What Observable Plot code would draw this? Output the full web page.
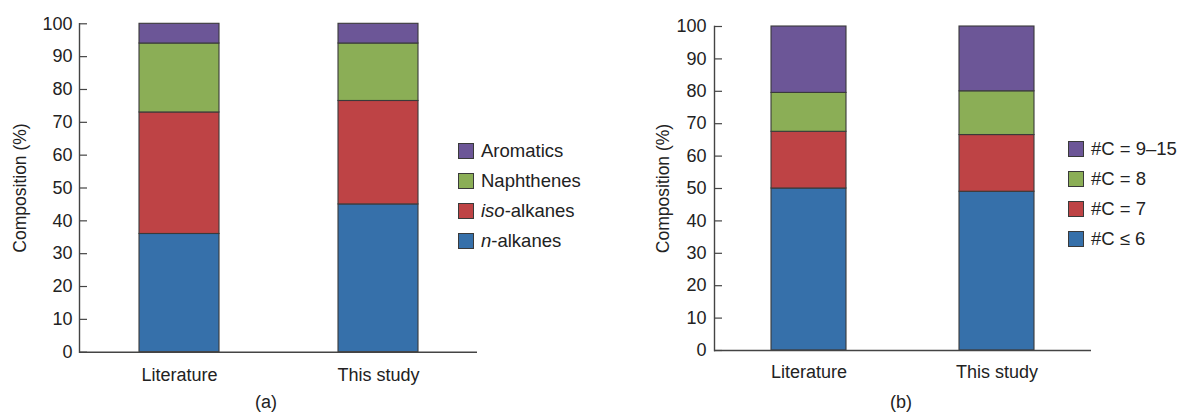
<!DOCTYPE html>
<html><head><meta charset="utf-8">
<script src="https://cdn.jsdelivr.net/npm/d3@7"></script>
<script src="https://cdn.jsdelivr.net/npm/@observablehq/plot@0.6"></script>
<style>
body{margin:0;background:#fff;font-family:"Liberation Sans",Arial,sans-serif;}
#wrap{position:relative;width:1178px;height:412px;overflow:hidden;}
#wrap svg{position:absolute;top:0;overflow:visible;}
.leg{position:absolute;font-size:18.5px;color:#222;}
.leg div{height:30px;display:flex;align-items:center;}
.leg span.sw{display:inline-block;width:16px;height:16px;border:1px solid #3a3a3a;margin-right:7px;box-sizing:border-box;}
.cap{position:absolute;font-size:18px;color:#222;transform:translateX(-50%);}
</style></head><body>
<div id="wrap"></div>
<script>
const categories = ["Literature", "This study"];
// Panel (a): group-type composition (%), bottom to top
const seriesA = ["n-alkanes", "iso-alkanes", "Naphthenes", "Aromatics"];
const litA = [36, 37, 21, 6];
const studyA = [45, 31.5, 17.5, 6];
// Panel (b): carbon-number composition (%), bottom to top
const seriesB = ["#C ≤ 6", "#C = 7", "#C = 8", "#C = 9–15"];
const litB = [50, 17.5, 12, 20.5];
const studyB = [49, 17.5, 13.5, 20];
const colors = ["#3670aa", "#be4345", "#8bae56", "#6c5697"];
const yTicks = [0, 10, 20, 30, 40, 50, 60, 70, 80, 90, 100];

function rows(series, lit, study) {
  const r = [];
  series.forEach((s, i) => {
    r.push({cat: categories[0], series: s, idx: i, value: lit[i]});
    r.push({cat: categories[1], series: s, idx: i, value: study[i]});
  });
  return r;
}

function panel(data, series, o) {
  const fw = o.width - o.ml - o.mr;
  return Plot.plot({
    width: o.width, height: 390,
    marginLeft: o.ml, marginRight: o.mr, marginTop: o.mt, marginBottom: o.mb,
    style: {fontFamily: '"Liberation Sans", Arial, sans-serif', fontSize: "18px", color: "#222", background: "transparent"},
    x: {domain: categories, paddingInner: o.pi, paddingOuter: o.po, label: null},
    y: {domain: [0, 100], ticks: yTicks, label: null},
    color: {domain: series, range: colors},
    marks: [
      Plot.barY(data, {x: "cat", y: "value", fill: "series", order: "idx", stroke: "#3a3a3a", strokeWidth: 1.1}),
      Plot.ruleY(yTicks, {stroke: "#444", strokeWidth: 1.2, insetRight: fw - 8}),
      Plot.ruleY([0], {stroke: "#444", strokeWidth: 1.6}),
      Plot.frame({anchor: "left", stroke: "#444", strokeWidth: 1.4}),
      Plot.axisY({ticks: yTicks, tickSize: 0, tickPadding: o.tp, fontSize: 18, label: null, fill: "#222"}),
      Plot.axisY({ticks: [], tickSize: 0, fontSize: 17.5, label: "Composition (%)", labelAnchor: "center", labelOffset: o.lo, labelArrow: "none", fill: "#222"}),
      Plot.axisX({tickSize: 0, tickPadding: o.xp, fontSize: 18, label: null, fill: "#222"})
    ]
  });
}

const wrap = document.getElementById("wrap");
const a = panel(rows(seriesA, litA, studyA), seriesA, {width: 480, ml: 79, mr: 3, mt: 23.3, mb: 38.3, pi: 0.599, po: 0.297, tp: 7, lo: 66, xp: 16});
a.style.left = "0px";
wrap.appendChild(a);
const b = panel(rows(seriesB, litB, studyB), seriesB, {width: 480, ml: 94, mr: 9, mt: 26, mb: 40, pi: 0.602, po: 0.302, tp: 8, lo: 58, xp: 15});
b.style.left = "620px";
wrap.appendChild(b);

function legend(labels, left, top) {
  const d = document.createElement("div");
  d.className = "leg";
  d.style.left = left + "px"; d.style.top = top + "px";
  for (let i = labels.length - 1; i >= 0; i--) {
    const row = document.createElement("div");
    row.innerHTML = `<span class="sw" style="background:${colors[i]}"></span><span>${labels[i]}</span>`;
    d.appendChild(row);
  }
  wrap.appendChild(d);
}
legend(["<i>n</i>-alkanes", "<i>iso</i>-alkanes", "Naphthenes", "Aromatics"], 458, 136);
legend(seriesB, 1068, 134);

function cap(t, x, y) {
  const c = document.createElement("div");
  c.className = "cap"; c.textContent = t;
  c.style.left = x + "px"; c.style.top = y + "px";
  wrap.appendChild(c);
}
cap("(a)", 266, 392);
cap("(b)", 901, 392);
</script>
</body></html>
